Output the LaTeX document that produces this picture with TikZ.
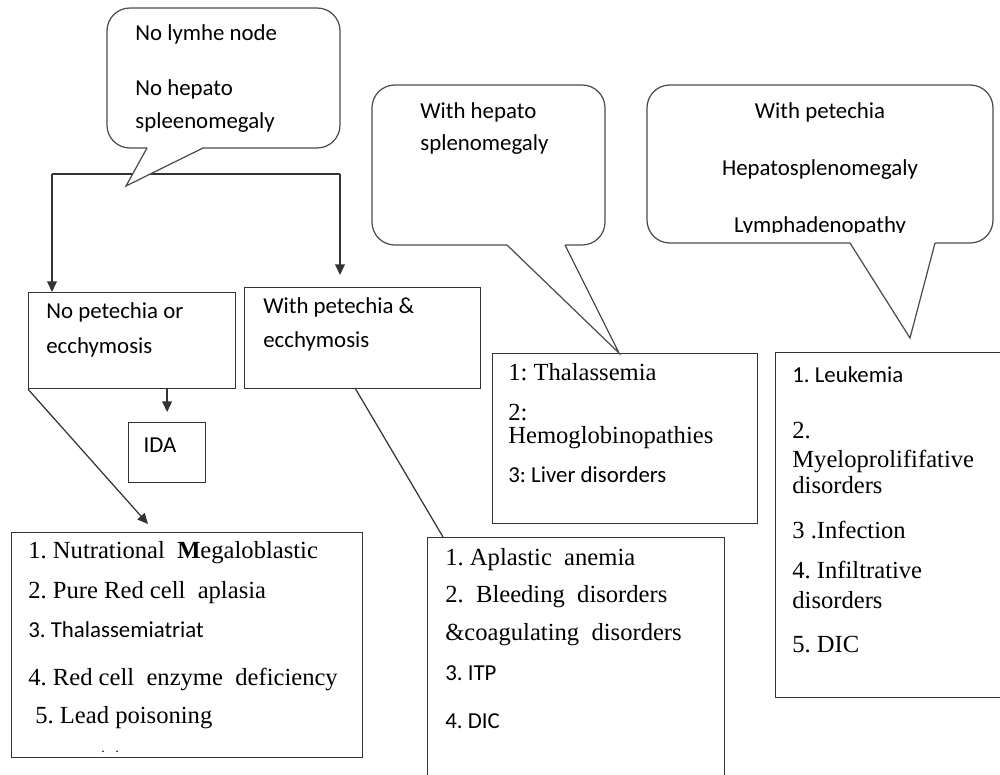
\documentclass[tikz,border=0pt]{standalone}
\usepackage{fontspec}
\setmainfont{Liberation Serif}
\newfontfamily\calib{Carlito}
\usetikzlibrary{arrows.meta}
\frenchspacing

\begin{document}
\begin{tikzpicture}[
  x=0.02cm, y=-0.02cm,
  line/.style={line width=0.7pt, black!80},
  box/.style={draw, line width=0.7pt, black!80, inner sep=0pt,
              anchor=north west},
  bubble/.style={line width=0.7pt, black!70, rounded corners=13pt},
  tail/.style={line width=0.7pt, black!70, fill=white},
  arr/.style={line, -{Triangle[length=6pt,width=5.5pt]}},
  say/.style={font=\calib\fontsize{13}{15}\selectfont, anchor=west,
              inner sep=0pt, text height=1.5ex, text depth=0.25ex},
  saymid/.style={say, anchor=center},
  item/.style={font=\fontsize{14}{16}\selectfont, anchor=west,
               inner sep=0pt, text height=1.5ex, text depth=0.25ex}]

\useasboundingbox (0,0) rectangle (1000,774);
\clip (0,0) rectangle (1000,774);

% ========================= the split under the first bubble ==============
\coordinate (jl) at (52,174);
\coordinate (jr) at (340,174);
\draw[line] (jl) -- (jr);

% ============================== left: no organ signs =====================
\node[box, minimum width=4.14cm, minimum height=1.92cm] (nopet) at (28,292) {};
\node[say] (nopet1) at (46,313) {No petechia or};
\node[say] (nopet2) at (46,348) {ecchymosis};
\node[box, minimum width=4.72cm, minimum height=2.02cm] (withpet) at (244,287) {};
\node[say] (withpet1) at (263,308) {With petechia \&};
\node[say] (withpet2) at (263,342) {ecchymosis};
\draw[arr] (jl) -- (jl |- nopet.north);
\draw[arr, shorten >=0.24cm] (jr) -- (jr |- withpet.north);

\node[box, minimum width=1.54cm, minimum height=1.2cm] (ida) at (128,422) {};
\node[saymid] (idatxt) at (160,447) {IDA};
\draw[arr, shorten >=0.2cm] (nopet.south -| ida.north) -- (ida.north);

\node[box, minimum width=7.02cm, minimum height=4.5cm] (nutr) at (11,532) {};
\coordinate (nutrtip) at (148,524);
\draw[arr] (nopet.south west) -- (nutrtip);
\node[item] (nutr1) at (28,553) {1. Nutrational~ \textbf{M}egaloblastic};
\node[item] (nutr2) at (28,593) {2. Pure Red cell~ aplasia};
\node[say]  (nutr3) at (28,632) {3. Thalassemiatriat};
\node[item] (nutr4) at (28,680) {4. Red cell~ enzyme~ deficiency};
\node[item] (nutr5) at (35,718) {5. Lead poisoning};
\node[item, font=\fontsize{8}{9}\selectfont] (nutr6) at (101,747) {.~~~.};

\node[box, minimum width=5.94cm, minimum height=5.2cm] (aplas) at (427,537) {};
\coordinate (wpfoot) at (355,388);
\coordinate (aptop) at (443,537);
\draw[line] (wpfoot) -- (aptop);
\node[item] (aplas1) at (445,560) {1. Aplastic~ anemia};
\node[item] (aplas2) at (445,597) {2.~ Bleeding~ disorders};
\node[item] (aplas3) at (445,635) {\&coagulating~ disorders};
\node[say]  (aplas4) at (445,675) {3. ITP};
\node[say]  (aplas5) at (445,723) {4. DIC};

% ============================ first bubble ===============================
\draw[bubble] (147,148) -- (107,148) -- (107,8) -- (340,8) -- (340,148) -- (203,148);
\filldraw[tail] (147,148) -- (126,186) -- (203,148);
\node[say] (bub1a) at (135,35)  {No lymhe node};
\node[say] (bub1b) at (135,90)  {No hepato};
\node[say] (bub1c) at (135,123) {spleenomegaly};

% ======================== middle: with hepato spleen =====================
\node[box, minimum width=5.3cm, minimum height=3.4cm] (thal) at (492,353) {};
\node[item] (thal1) at (508,375) {1: Thalassemia};
\node[item] (thal2) at (508,415) {2:};
\node[item] (thal3) at (508,438) {Hemoglobinopathies};
\node[say]  (thal4) at (508,477) {3: Liver disorders};
\coordinate (thaltip) at (619,353);
\draw[bubble] (507,245) -- (372,245) -- (372,85) -- (605,85) -- (605,245) -- (565,245);
\filldraw[tail] (507,245) -- (thaltip) -- (565,245);
\node[say] (bub2a) at (420,113) {With hepato};
\node[say] (bub2b) at (420,145) {splenomegaly};

% ========================= right: with everything ========================
\node[box, minimum width=4.8cm, minimum height=6.9cm] (leuk) at (775,352) {};
\node[say]  (leuk1) at (792,377) {1. Leukemia};
\node[item] (leuk2) at (792,433) {2.};
\node[item] (leuk3) at (792,462) {Myeloprolififative};
\node[item] (leuk4) at (792,488) {disorders};
\node[item] (leuk5) at (792,533) {3 .Infection};
\node[item] (leuk6) at (792,573) {4. Infiltrative};
\node[item] (leuk7) at (792,603) {disorders};
\node[item] (leuk8) at (792,647) {5. DIC};
\coordinate (leuktip) at (910,338);
\draw[bubble] (850,243) -- (647,243) -- (647,85) -- (993,85) -- (993,243) -- (935,243);
\filldraw[tail] (850,243) -- (leuktip) -- (935,243);
\node[saymid] (bub3a) at (820,113) {With petechia};
\node[saymid] (bub3b) at (820,170) {Hepatosplenomegaly};
\begin{scope}
  \clip (650,90) rectangle (990,232);
  \node[saymid] (bub3c) at (820,227) {Lymphadenopathy};
\end{scope}

\end{tikzpicture}
\end{document}
